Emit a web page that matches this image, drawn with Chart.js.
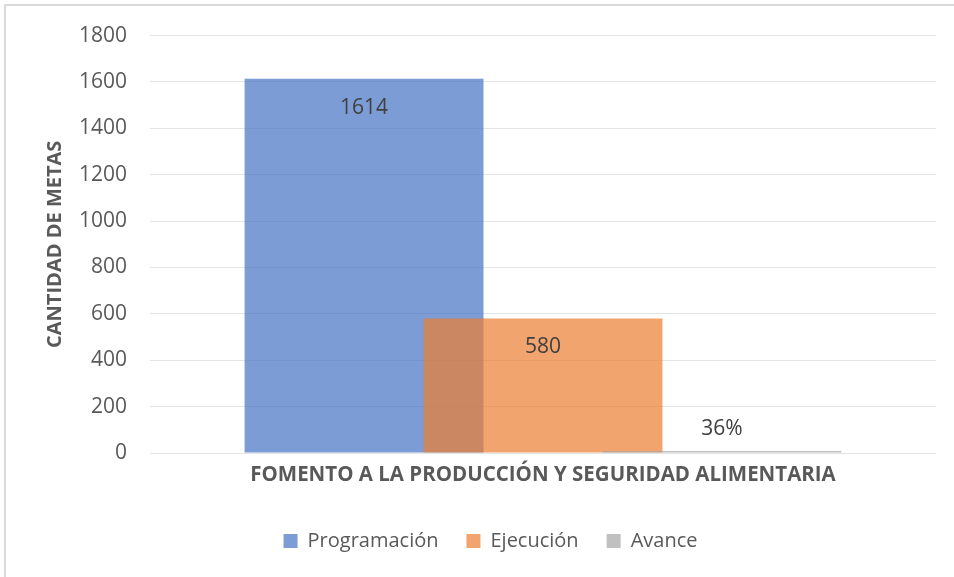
<!DOCTYPE html>
<html lang="es">
<head>
<meta charset="utf-8">
<title>Fomento a la producción y seguridad alimentaria</title>
<script src="https://cdn.jsdelivr.net/npm/chart.js@4.4.1/dist/chart.umd.min.js"></script>
<style>
  html, body { margin: 0; padding: 0; background: #fff; }
  #wrap { position: relative; width: 954px; height: 577px; overflow: hidden; }
  #frame {
    position: absolute; left: 4px; top: 4px; width: 980px; height: 600px;
    border-left: 2px solid #dadada; border-top: 2px solid #dadada;
  }
  #grafico { position: absolute; left: 0; top: 0; }
</style>
</head>
<body>
<div id="wrap">
  <div id="frame"></div>
  <canvas id="grafico" width="954" height="577"></canvas>
</div>
<script>
const categorias = ['FOMENTO A LA PRODUCCIÓN Y SEGURIDAD ALIMENTARIA'];
const programacion = [1614];
const ejecucion = [580];
const avance = [0.36];   // fracción, se muestra como porcentaje

const series = ['Programación', 'Ejecución', 'Avance'];
const colores = ['rgba(68,114,196,0.7)', 'rgba(237,125,49,0.7)', 'rgba(165,165,165,0.7)'];

const gris = '#595959';
Chart.defaults.font.family = "'Open Sans', 'Liberation Sans', sans-serif";
Chart.defaults.color = gris;

// pinta las series en su orden, la siguiente encima de la anterior
const pintarEnOrden = {
  id: 'pintarEnOrden',
  beforeDatasetsDraw(chart) {
    chart.getSortedVisibleDatasetMetas().forEach(meta => meta.controller.draw());
    return false;
  }
};

// etiquetas de valor sobre cada barra
const etiquetas = {
  id: 'etiquetas',
  afterDraw(chart) {
    const ctx = chart.ctx;
    ctx.save();
    ctx.font = "21px 'Open Sans'";
    ctx.fillStyle = '#404040';
    ctx.textAlign = 'center';
    ctx.textBaseline = 'middle';
    chart.data.datasets.forEach((ds, i) => {
      chart.getDatasetMeta(i).data.forEach((bar, j) => {
        const v = ds.data[j];
        const txt = i === 2 ? Math.round(v * 100) + '%' : String(v);
        const alto = bar.base - bar.y;
        const y = alto > 54 ? bar.y + 29 : bar.y - 22;
        ctx.fillText(txt, bar.x, y);
      });
    });
    ctx.restore();
  }
};

new Chart(document.getElementById('grafico'), {
  type: 'bar',
  data: {
    labels: categorias,
    datasets: [
      { label: series[0], data: programacion, backgroundColor: colores[0] },
      { label: series[1], data: ejecucion, backgroundColor: colores[1] },
      { label: series[2], data: avance, backgroundColor: colores[2], minBarLength: 2 }
    ]
  },
  options: {
    responsive: false,
    animation: false,
    devicePixelRatio: 1,
    categoryPercentage: 0.683,
    barPercentage: 1.335,
    layout: { padding: { top: 35, left: 45, right: 18, bottom: 16 } },
    plugins: {
      tooltip: { enabled: false },
      legend: {
        position: 'bottom',
        labels: {
          boxWidth: 14,
          boxHeight: 14,
          padding: 28,
          color: gris,
          font: { size: 20 }
        }
      }
    },
    scales: {
      x: {
        grid: { display: false },
        border: { display: false },
        ticks: {
          color: gris,
          maxRotation: 0,
          padding: 2,
          font: { size: 20.5, weight: 'bold' }
        },
        afterFit(scale) { scale.height = 50; }
      },
      y: {
        min: 0,
        max: 1800,
        border: { display: false },
        grid: { color: '#e4e4e4', drawTicks: false },
        ticks: {
          stepSize: 200,
          padding: 23,
          color: gris,
          font: { size: 21 },
          callback: v => String(v)
        },
        title: {
          display: true,
          text: 'CANTIDAD DE METAS',
          color: gris,
          padding: { top: 0, bottom: 0 },
          font: { size: 20, weight: 'bold', lineHeight: 1 }
        },
        afterFit(scale) { scale.width = 105; }
      }
    }
  },
  plugins: [pintarEnOrden, etiquetas]
});
</script>
</body>
</html>
